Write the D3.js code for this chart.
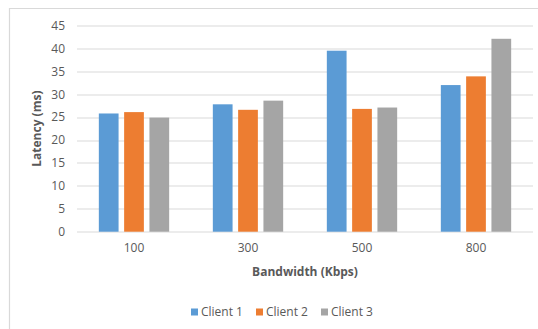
<!DOCTYPE html>
<html>
<head>
<meta charset="utf-8">
<script src="https://cdn.jsdelivr.net/npm/d3@7"></script>
<style>
  html, body { margin: 0; padding: 0; background: #fff; }
  svg { display: block; font-family: "Open Sans", sans-serif; }
</style>
</head>
<body>
<svg id="chart" width="538" height="329"></svg>
<script>
// Latency per bandwidth setting for each client
const categories = ["100", "300", "500", "800"];
const seriesNames = ["Client 1", "Client 2", "Client 3"];
const client1 = [25.8, 27.8, 39.5, 32.0];
const client2 = [26.1, 26.6, 26.8, 33.9];
const client3 = [24.9, 28.6, 27.1, 42.1];
const yTicks = [0, 5, 10, 15, 20, 25, 30, 35, 40, 45];
const colors = ["#5b9bd5", "#ed7d31", "#a5a5a5"];

const seriesValues = [client1, client2, client3];
const rows = categories.map((c, i) => ({
  category: c,
  values: seriesNames.map((s, j) => ({ series: s, value: seriesValues[j][i], idx: j }))
}));

const svg = d3.select("#chart");
const margin = { left: 77, right: 5, top: 25.5, bottom: 97.3 };
const W = 538, H = 329;
const plotW = W - margin.left - margin.right;
const plotH = H - margin.top - margin.bottom;

// Chart frame (top and left edges)
svg.append("line").attr("x1", 9).attr("x2", W).attr("y1", 8.5).attr("y2", 8.5)
  .attr("stroke", "#d9d9d9").attr("stroke-width", 1.2);
svg.append("line").attr("x1", 9.5).attr("x2", 9.5).attr("y1", 8).attr("y2", H)
  .attr("stroke", "#d9d9d9").attr("stroke-width", 1.2);

const g = svg.append("g").attr("transform", `translate(${margin.left},${margin.top})`);

const x0 = d3.scaleBand().domain(categories).range([0, plotW]).paddingInner(0.383).paddingOuter(0.1915);
const x1 = d3.scaleBand().domain(seriesNames).range([0, x0.bandwidth()]).paddingInner(0.22);
const y = d3.scaleLinear().domain([0, 45]).range([plotH, 0]);

// Gridlines
g.append("g").selectAll("line").data(yTicks).join("line")
  .attr("x1", 0).attr("x2", plotW)
  .attr("y1", d => Math.round(y(d)) + 0.5).attr("y2", d => Math.round(y(d)) + 0.5)
  .attr("stroke", "#d9d9d9").attr("stroke-width", 1.2);

// Y axis labels
const yAxis = d3.axisLeft(y).tickValues(yTicks).tickSize(0).tickPadding(12);
g.append("g").call(yAxis)
  .call(s => s.select(".domain").remove())
  .selectAll("text").attr("fill", "#595959").attr("font-size", "12px")
  .attr("font-family", "'Open Sans', sans-serif");

// Bars
const groups = g.append("g").selectAll("g").data(rows).join("g")
  .attr("transform", d => `translate(${x0(d.category)},0)`);
groups.selectAll("rect").data(d => d.values).join("rect")
  .attr("x", d => x1(d.series))
  .attr("width", x1.bandwidth())
  .attr("y", d => y(d.value))
  .attr("height", d => y(0) - y(d.value))
  .attr("fill", d => colors[d.idx]);

// X axis labels
const xAxis = d3.axisBottom(x0).tickSize(0).tickPadding(12);
g.append("g").attr("transform", `translate(0,${plotH})`).call(xAxis)
  .call(s => s.select(".domain").remove())
  .selectAll("text").attr("fill", "#595959").attr("font-size", "12px")
  .attr("font-family", "'Open Sans', sans-serif");

// Axis titles
svg.append("text")
  .attr("x", margin.left + plotW / 2).attr("y", 276)
  .attr("text-anchor", "middle").attr("font-size", "12px").attr("font-weight", "bold")
  .attr("fill", "#595959").text("Bandwidth (Kbps)");
svg.append("text")
  .attr("transform", `translate(41,${margin.top + plotH / 2}) rotate(-90)`)
  .attr("text-anchor", "middle").attr("font-size", "12px").attr("font-weight", "bold")
  .attr("fill", "#595959").text("Latency (ms)");

// Legend
const legendX = [191, 256, 321];
const legend = svg.append("g").selectAll("g").data(seriesNames).join("g")
  .attr("transform", (d, i) => `translate(${legendX[i]},312)`);
legend.append("rect").attr("x", 0).attr("y", -3.5).attr("width", 7).attr("height", 7)
  .attr("fill", (d, i) => colors[i]);
legend.append("text").attr("x", 10).attr("y", 0).attr("dy", "0.35em")
  .attr("font-size", "12px").attr("fill", "#595959").text(d => d);
</script>
</body>
</html>
